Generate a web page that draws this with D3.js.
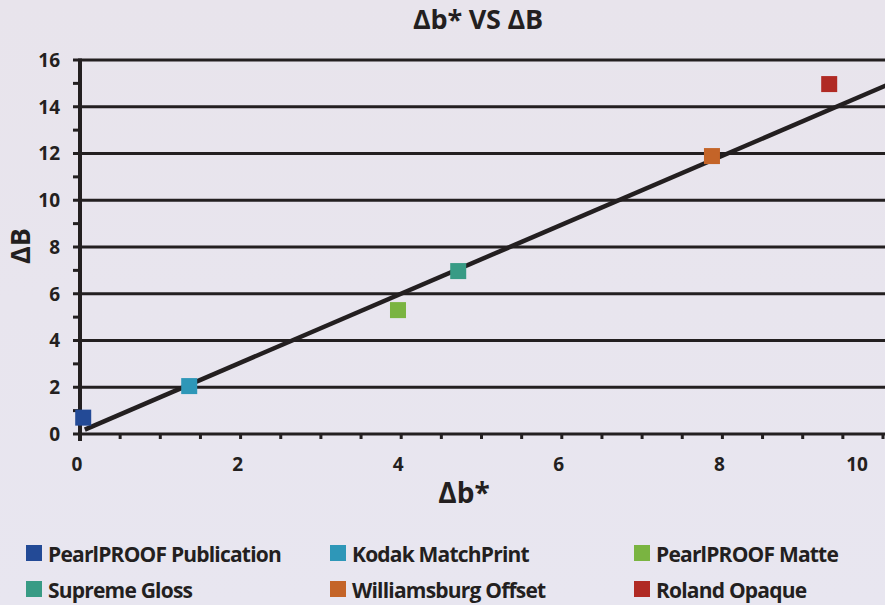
<!DOCTYPE html>
<html><head><meta charset="utf-8">
<script src="https://cdn.jsdelivr.net/npm/d3@7/dist/d3.min.js"></script>
<style>
html,body{margin:0;padding:0;background:#e9e6ee;}
svg{display:block;}
text{font-family:"Open Sans","DejaVu Sans",sans-serif;font-weight:700;fill:#231f20;}
</style></head>
<body><svg id="chart" width="885" height="605"></svg>
<script>
const seriesNames = ["PearlPROOF Publication","Kodak MatchPrint","PearlPROOF Matte","Supreme Gloss","Williamsburg Offset","Roland Opaque"];
const seriesColors = ["#234a96","#2e97b8","#7ab441","#389b85","#c46428","#b02a24"];
const xValues = [0.04, 1.36, 3.96, 4.71, 7.87, 9.33];
const yValues = [0.70, 2.05, 5.30, 6.97, 11.89, 14.97];
const trendX = [0.06, 10.05];
const trendY = [0.19, 14.93];
const xTicks = [0,2,4,6,8,10];
const yTicks = [0,2,4,6,8,10,12,14,16];

const svg = d3.select("#chart");
const defs = svg.append("defs");
const grad = defs.append("linearGradient").attr("id","bg").attr("x1","0").attr("y1","0").attr("x2","0").attr("y2","1");
grad.append("stop").attr("offset","0").attr("stop-color","#e8e4ec");
grad.append("stop").attr("offset","1").attr("stop-color","#e8e6f0");
svg.append("rect").attr("width",885).attr("height",605).attr("fill","url(#bg)");

const x = d3.scaleLinear().domain([0,10]).range([80,883]);
const y = d3.scaleLinear().domain([0,16]).range([434,60]);
const ink = "#231f20";

// gridlines
svg.append("g").selectAll("line").data(yTicks).join("line")
  .attr("x1",80).attr("x2",885).attr("y1",d=>y(d)).attr("y2",d=>y(d))
  .attr("stroke",ink).attr("stroke-width",3);

// y minor + major ticks
const yMinor = d3.range(1,16,2);
svg.append("g").selectAll("line").data(yTicks.concat(yMinor)).join("line")
  .attr("x1",73).attr("x2",80).attr("y1",d=>y(d)).attr("y2",d=>y(d))
  .attr("stroke",ink).attr("stroke-width",3);

// x ticks (every 0.5)
const xMinor = d3.range(0.5,10.01,0.5);
svg.append("g").selectAll("line").data(xMinor).join("line")
  .attr("x1",d=>x(d)).attr("x2",d=>x(d)).attr("y1",434).attr("y2",439)
  .attr("stroke",ink).attr("stroke-width",3);

// y axis line
svg.append("line").attr("x1",80).attr("x2",80).attr("y1",58.5).attr("y2",441)
  .attr("stroke",ink).attr("stroke-width",4);

// y tick labels
svg.append("g").selectAll("text").data(yTicks).join("text")
  .attr("x",60).attr("y",d=>y(d)).attr("dy","0.36em").attr("text-anchor","end")
  .attr("font-size",19).text(d=>d);

// x tick labels
svg.append("g").selectAll("text").data(xTicks).join("text")
  .attr("x",d=> d===10 ? x(d)-26 : x(d)-3).attr("y",471).attr("text-anchor","middle")
  .attr("font-size",19).text(d=>d);

// trend line
svg.append("line")
  .attr("x1",x(trendX[0])).attr("y1",y(trendY[0]))
  .attr("x2",x(trendX[1])).attr("y2",y(trendY[1]))
  .attr("stroke",ink).attr("stroke-width",4.5);

// points
const pts = seriesNames.map((n,i)=>({n,c:seriesColors[i],x:xValues[i],y:yValues[i]}));
svg.append("g").selectAll("rect").data(pts).join("rect")
  .attr("x",d=>x(d.x)-8).attr("y",d=>y(d.y)-8).attr("width",16).attr("height",16)
  .attr("fill",d=>d.c);

// titles
svg.append("text").attr("x",478).attr("y",29).attr("text-anchor","middle")
  .attr("font-size",27).attr("letter-spacing",-0.2).text("Δb* VS ΔB");
svg.append("text").attr("transform","translate(30,246) rotate(-90)").attr("text-anchor","middle")
  .attr("font-size",27).text("ΔB");
svg.append("text").attr("x",464).attr("y",503).attr("text-anchor","middle")
  .attr("font-size",28).text("Δb*");

// legend
const colX = [26,330,634];
const rowY = [562,598];
const lg = svg.append("g").selectAll("g").data(pts).join("g")
  .attr("transform",(d,i)=>`translate(${colX[i%3]},${rowY[Math.floor(i/3)]})`);
lg.append("rect").attr("x",0).attr("y",-17).attr("width",16).attr("height",16).attr("fill",d=>d.c);
lg.append("text").attr("x",22).attr("y",0).attr("font-size",21)
  .attr("letter-spacing",-0.8).text(d=>d.n);
</script></body></html>
